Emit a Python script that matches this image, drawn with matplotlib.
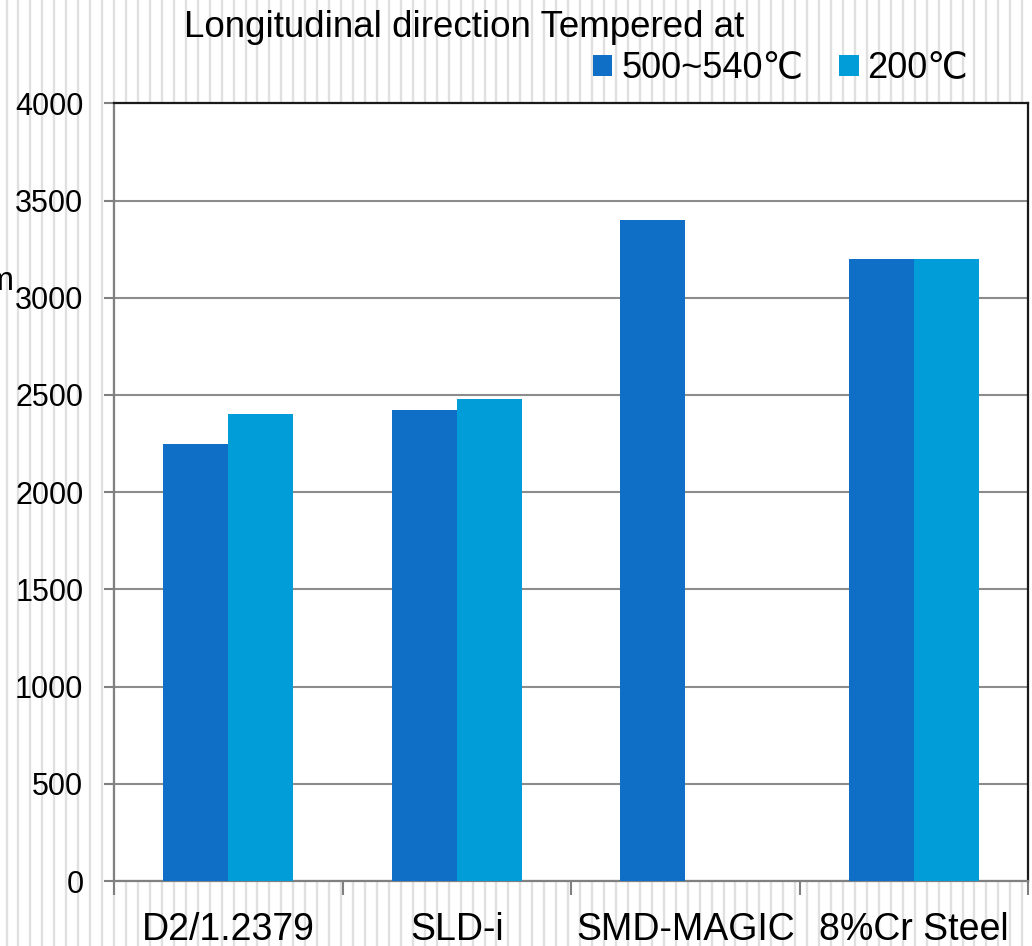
import matplotlib
matplotlib.use("Agg")
import matplotlib.pyplot as plt
import numpy as np
from matplotlib.lines import Line2D

categories = ["D2/1.2379", "SLD-i", "SMD-MAGIC", "8%Cr Steel"]
series_names = ["500~540℃", "200℃"]
temp_high = [2250, 2420, 3400, 3200]
temp_low = [2400, 2480, np.nan, 3200]
yticks = [0, 500, 1000, 1500, 2000, 2500, 3000, 3500, 4000]
title = "Longitudinal direction Tempered at"
ylabel = "N/mm"

colors = ["#0F6FC6", "#009DD9"]
fam = ["Liberation Sans", "DejaVu Sans", "Noto Sans CJK SC"]
plt.rcParams["font.family"] = fam

W, H = 1032, 946
fig = plt.figure(figsize=(W / 100, H / 100), dpi=100)

# striped background
for xs in np.arange(6.5, W, 11.95):
    fig.add_artist(Line2D([xs / W, xs / W], [0, 1], transform=fig.transFigure,
                          color="#e0e0e0", lw=1.7, zorder=-10))

ax = fig.add_axes([114 / W, 1 - 881 / H, (1028 - 114) / W, (881 - 103.3) / H])
ax.set_facecolor("white")

x = np.arange(len(categories))
bw = 0.284
b1 = ax.bar(x - bw / 2, temp_high, width=bw, color=colors[0], label=series_names[0], zorder=3, lw=0)
b2 = ax.bar(x + bw / 2, temp_low, width=bw, color=colors[1], label=series_names[1], zorder=3, lw=0)

ax.set_xlim(-0.5, len(categories) - 0.5)
ax.set_ylim(0, 4000)
ax.set_yticks(yticks)
ax.yaxis.grid(True, color="#8c8c8c", lw=1.5, zorder=0)
ax.set_axisbelow(True)

ax.set_xticks(x)
ax.set_xticklabels(categories, fontsize=27)
ax.set_xticks(np.arange(-0.5, len(categories), 1.0), minor=True)
ax.tick_params(axis="x", which="major", length=0, pad=22)
ax.tick_params(axis="x", which="minor", length=10, width=1.5, color="#808080", direction="out")
ax.tick_params(axis="y", labelsize=22, length=7, width=1.5, color="#808080", pad=15)

for s in ["left", "bottom"]:
    ax.spines[s].set_color("#808080")
    ax.spines[s].set_linewidth(1.6)
for s in ["top", "right"]:
    ax.spines[s].set_color("#1a1a1a")
    ax.spines[s].set_linewidth(1.6)

fig.text(464 / W, 1 - 37 / H, title, fontsize=26.5, ha="center", va="baseline")
fig.text(14 / W, 1 - 290 / H, ylabel, fontsize=24, ha="right", va="baseline")

fig.legend(handles=[b1, b2], loc="center left", bbox_to_anchor=(593 / W, 1 - 69 / H),
           ncol=2, frameon=False, fontsize=26, handlelength=0.53, handleheight=0.53,
           handletextpad=0.25, columnspacing=1.0, borderpad=0, borderaxespad=0)

fig.savefig("out.png", dpi=100, facecolor="white")
